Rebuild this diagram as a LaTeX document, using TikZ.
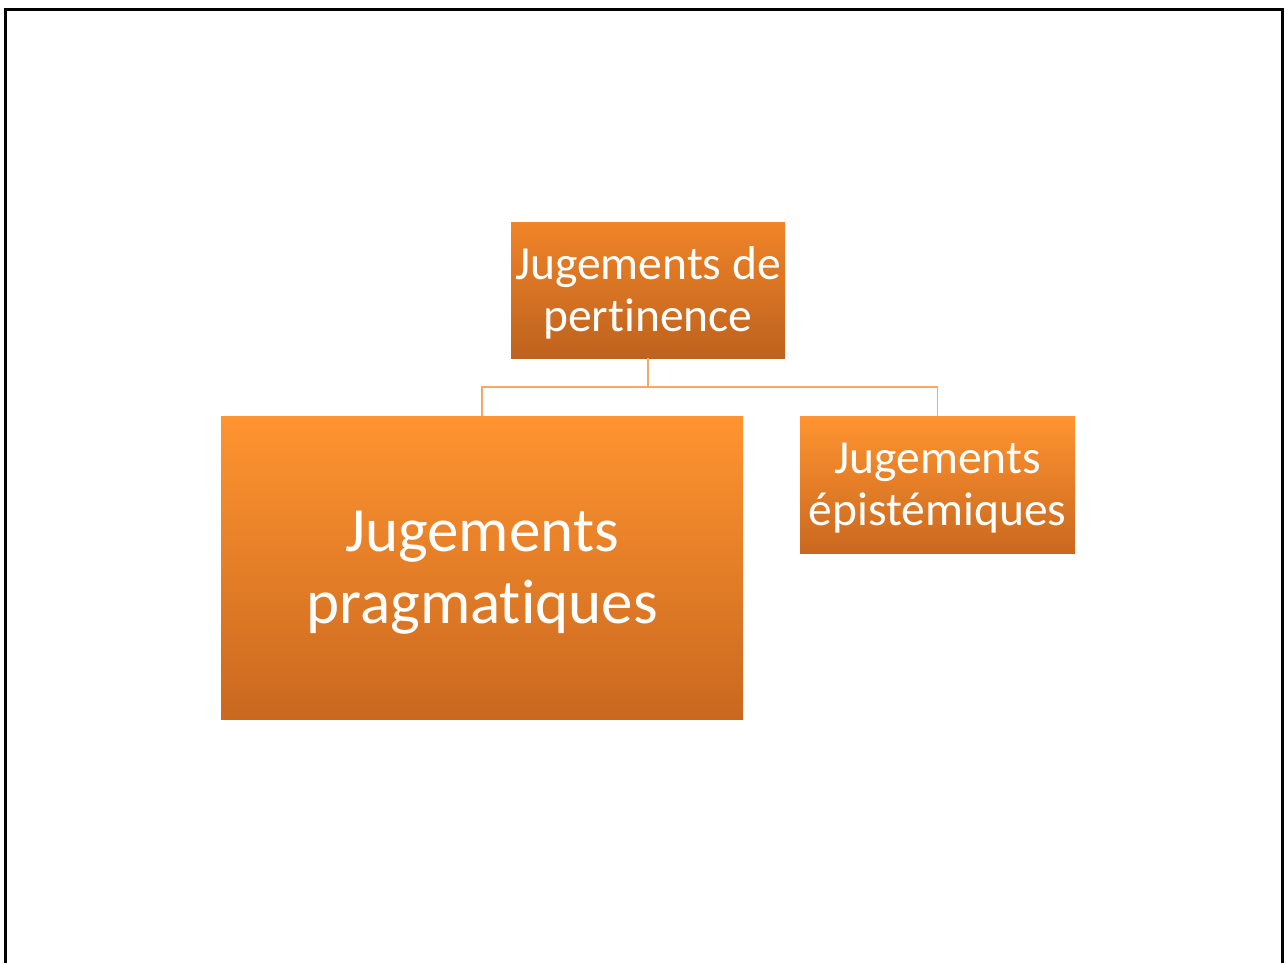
\documentclass[tikz,border=0pt]{standalone}
\usepackage{fontspec}
\setmainfont[Ligatures=NoCommon]{Carlito}
\definecolor{topA}{HTML}{F08428}
\definecolor{topB}{HTML}{BE621E}
\definecolor{chA}{HTML}{FF9430}
\definecolor{chB}{HTML}{C9681F}
\definecolor{conn}{HTML}{F5A868}
\begin{document}
\begin{tikzpicture}[x=1pt,y=-1pt,
  box/.style={rectangle,inner sep=0pt},
  parentbox/.style={box,top color=topA,bottom color=topB},
  childbox/.style={box,top color=chA,bottom color=chB},
  txt/.style={inner sep=0pt,text=white,align=center},
  conline/.style={draw=conn,line width=1.4pt}]
\useasboundingbox (0,0) rectangle (1285,963);
\fill[white] (0,0) rectangle (1285,963);
\draw[black,line width=3pt] (5,963) -- (5,9.5) -- (1282,9.5) -- (1282,963);
\node[parentbox,minimum width=274pt,minimum height=136pt] (p) at (648,290) {};
\node[txt,font=\fontsize{47.5}{52}\selectfont] (pt) at (648,292.5) {Jugements de\\pertinence};
\node[childbox,minimum width=522pt,minimum height=303pt] (a) at (482,567.5) {};
\node[txt,font=\fontsize{63}{72}\selectfont] (at) at (482,573) {Jugements\\pragmatiques};
\node[childbox,minimum width=275pt,minimum height=137pt] (b) at (937.5,484.5) {};
\node[txt,font=\fontsize{47.5}{52}\selectfont] (bt) at (937.5,488) {Jugements\\épistémiques};
\coordinate (m) at (648,387);
\draw[conline] (p.south) -- (m) -| (a.north);
\draw[conline] (m) -| (b.north);
\end{tikzpicture}
\end{document}
